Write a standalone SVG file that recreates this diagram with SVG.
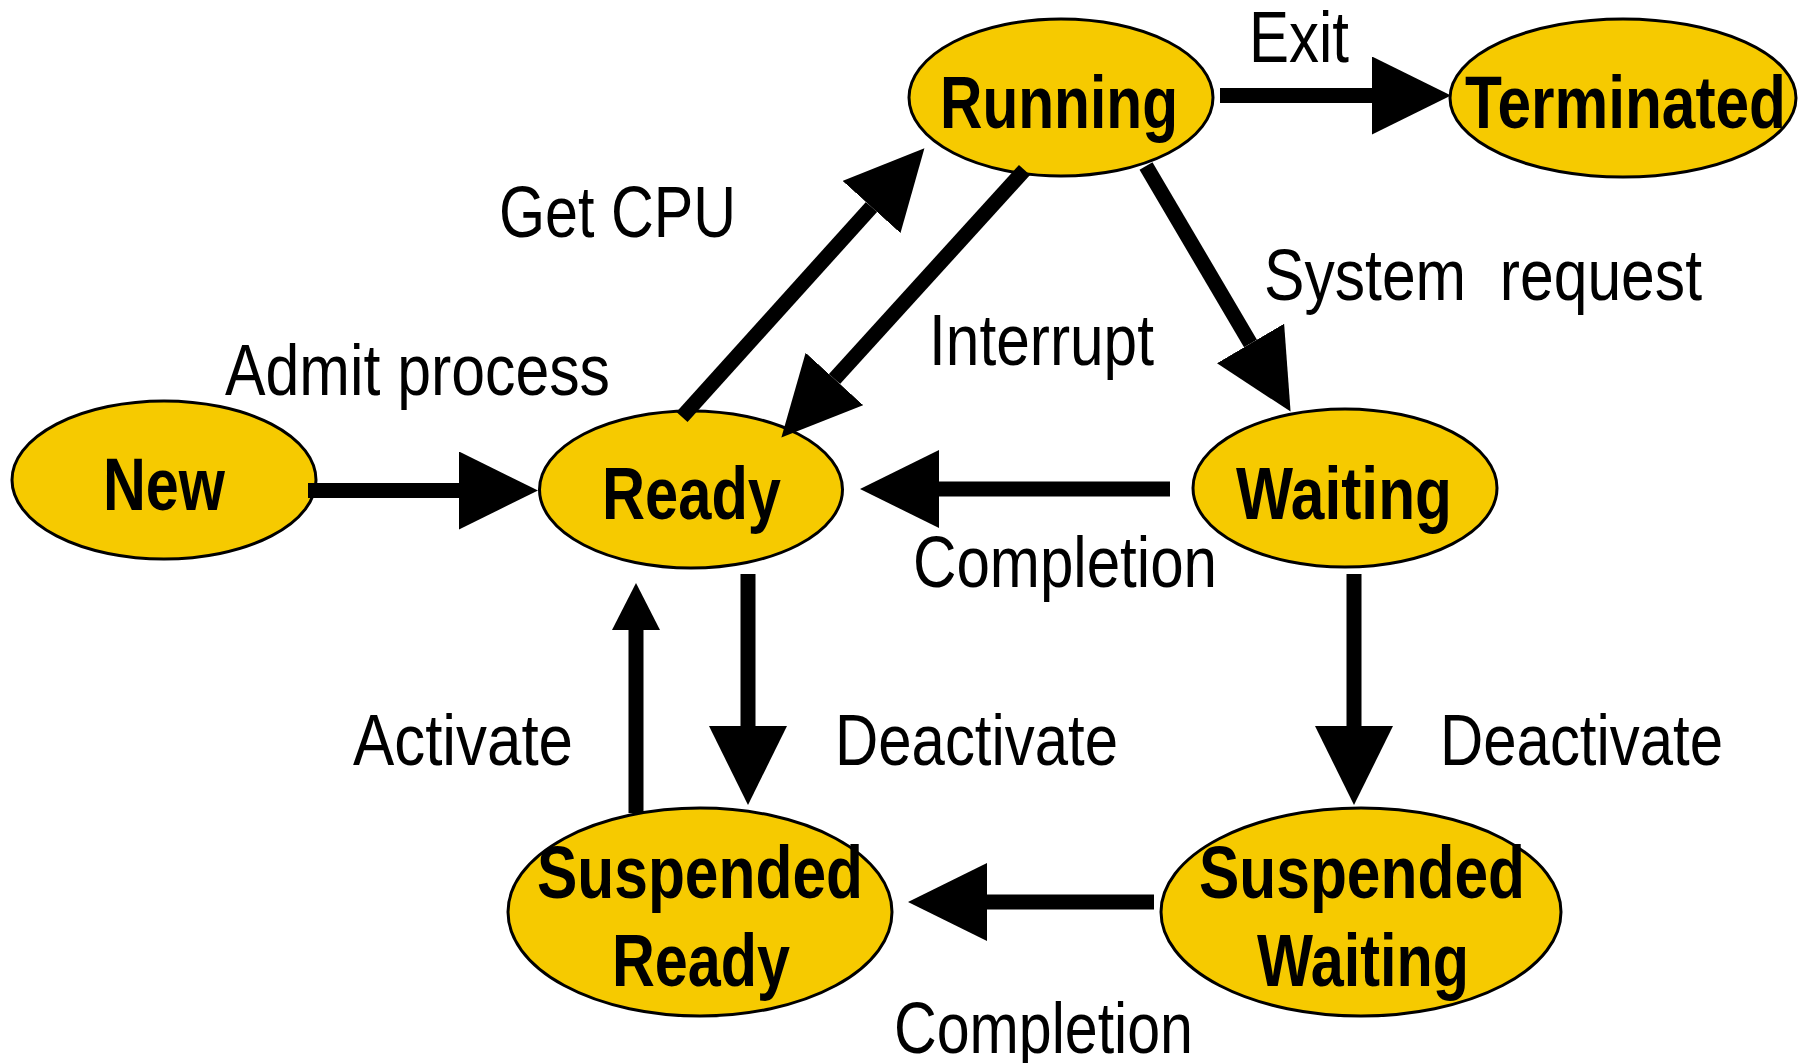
<svg xmlns="http://www.w3.org/2000/svg" width="1813" height="1063" viewBox="0 0 1813 1063">
  <style>
    .node ellipse { fill: #F6CA00; stroke: #000; stroke-width: 3; }
    .nl { font-family: "Liberation Sans", Arial, sans-serif; font-weight: bold; font-size: 74px; fill: #000; }
    .el { font-family: "Liberation Sans", Arial, sans-serif; font-size: 72px; fill: #000; }
    .edge { stroke: #000; stroke-width: 15; fill: none; }
  </style>
  <defs>
    <marker id="head" markerUnits="userSpaceOnUse" viewBox="0 0 79 78" refX="0" refY="39" markerWidth="79" markerHeight="78" orient="auto">
      <path d="M0,0 L79,39 L0,78 Z" fill="#000"/>
    </marker>
    <marker id="headSmall" markerUnits="userSpaceOnUse" viewBox="0 0 47 48" refX="0" refY="24" markerWidth="47" markerHeight="48" orient="auto">
      <path d="M0,0 L47,24 L0,48 Z" fill="#000"/>
    </marker>
  </defs>
  <rect width="1813" height="1063" fill="#fff"/>

  <g id="node-running" class="node">
    <ellipse cx="1061" cy="97.5" rx="152" ry="78.5"/>
    <text class="nl" x="940" y="128" textLength="238" lengthAdjust="spacingAndGlyphs">Running</text>
  </g>
  <g id="node-terminated" class="node">
    <ellipse cx="1623" cy="98" rx="173" ry="79"/>
    <text class="nl" x="1465" y="128" textLength="321" lengthAdjust="spacingAndGlyphs">Terminated</text>
  </g>
  <g id="node-new" class="node">
    <ellipse cx="164" cy="480" rx="152" ry="79"/>
    <text class="nl" x="103" y="510" textLength="122" lengthAdjust="spacingAndGlyphs">New</text>
  </g>
  <g id="node-ready" class="node">
    <ellipse cx="691" cy="489.5" rx="151.5" ry="78.5"/>
    <text class="nl" x="602" y="519" textLength="179" lengthAdjust="spacingAndGlyphs">Ready</text>
  </g>
  <g id="node-waiting" class="node">
    <ellipse cx="1345" cy="488" rx="152" ry="79"/>
    <text class="nl" x="1236" y="519" textLength="216" lengthAdjust="spacingAndGlyphs">Waiting</text>
  </g>
  <g id="node-suspended-ready" class="node">
    <ellipse cx="700" cy="912" rx="192" ry="104"/>
    <text class="nl" x="537" y="898" textLength="326" lengthAdjust="spacingAndGlyphs">Suspended</text>
    <text class="nl" x="612" y="986" textLength="178" lengthAdjust="spacingAndGlyphs">Ready</text>
  </g>
  <g id="node-suspended-waiting" class="node">
    <ellipse cx="1361" cy="912" rx="200" ry="104"/>
    <text class="nl" x="1199" y="898" textLength="326" lengthAdjust="spacingAndGlyphs">Suspended</text>
    <text class="nl" x="1257" y="986" textLength="212" lengthAdjust="spacingAndGlyphs">Waiting</text>
  </g>

  <g id="connectors">
    <line class="edge" x1="1220" y1="95.5" x2="1372" y2="95.5" marker-end="url(#head)"/>
    <line class="edge" x1="308" y1="490.5" x2="459" y2="490.5" marker-end="url(#head)"/>
    <line class="edge" x1="682" y1="417" x2="871.5" y2="207" marker-end="url(#head)"/>
    <line class="edge" x1="1024.5" y1="170" x2="834.5" y2="379" marker-end="url(#head)"/>
    <line class="edge" x1="1146" y1="166" x2="1250.5" y2="343.5" marker-end="url(#head)"/>
    <line class="edge" x1="1170" y1="489" x2="939" y2="489" marker-end="url(#head)"/>
    <line class="edge" x1="748" y1="574" x2="748" y2="726" marker-end="url(#head)"/>
    <line class="edge" x1="636" y1="813" x2="636" y2="630" marker-end="url(#headSmall)"/>
    <line class="edge" x1="1354" y1="574" x2="1354" y2="726" marker-end="url(#head)"/>
    <line class="edge" x1="1154" y1="902" x2="987" y2="902" marker-end="url(#head)"/>
  </g>

  <g id="labels">
    <text class="el" x="1249" y="62" textLength="100" lengthAdjust="spacingAndGlyphs">Exit</text>
    <text class="el" x="499" y="237" textLength="237" lengthAdjust="spacingAndGlyphs">Get CPU</text>
    <text class="el" x="1264" y="300" textLength="438" lengthAdjust="spacingAndGlyphs" xml:space="preserve">System  request</text>
    <text class="el" x="225" y="395" textLength="385" lengthAdjust="spacingAndGlyphs">Admit process</text>
    <text class="el" x="929" y="365" textLength="225" lengthAdjust="spacingAndGlyphs">Interrupt</text>
    <text class="el" x="913" y="587" textLength="304" lengthAdjust="spacingAndGlyphs">Completion</text>
    <text class="el" x="353" y="765" textLength="220" lengthAdjust="spacingAndGlyphs">Activate</text>
    <text class="el" x="835" y="765" textLength="283" lengthAdjust="spacingAndGlyphs">Deactivate</text>
    <text class="el" x="1440" y="765" textLength="283" lengthAdjust="spacingAndGlyphs">Deactivate</text>
    <text class="el" x="894" y="1053" textLength="299" lengthAdjust="spacingAndGlyphs">Completion</text>
  </g>
</svg>
